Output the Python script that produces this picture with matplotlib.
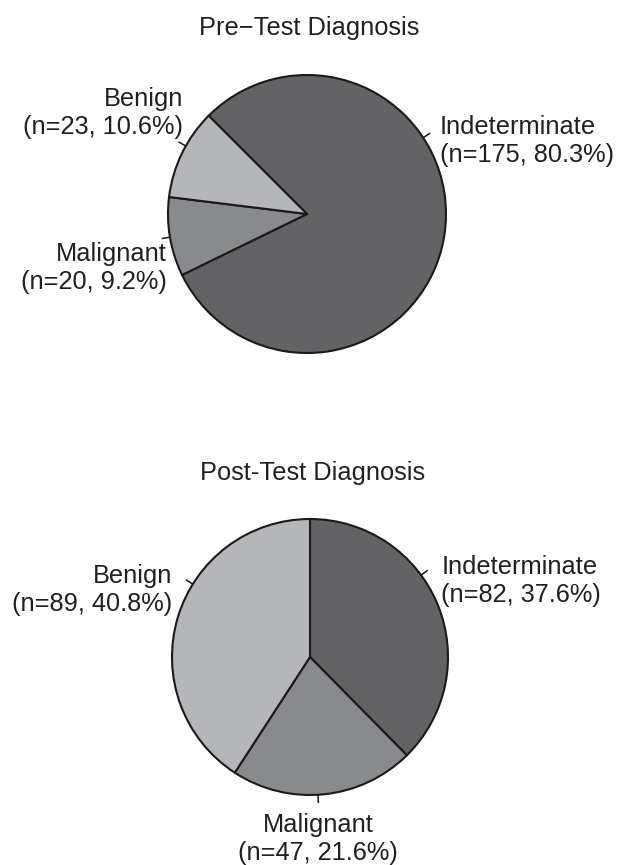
import numpy as np
import matplotlib
matplotlib.use('Agg')
import matplotlib.pyplot as plt

plt.rcParams['font.family'] = ['Liberation Sans', 'DejaVu Sans']

# diagnosis categories, in drawing order (clockwise)
categories = ['Indeterminate', 'Malignant', 'Benign']
pre_counts = [175, 20, 23]
post_counts = [82, 47, 89]

titles = ['Pre\u2212Test Diagnosis', 'Post-Test Diagnosis']

colors = ['#636365', '#898a8e', '#b5b6ba']

W, H = 618, 865
fig = plt.figure(figsize=(W / 100, H / 100), dpi=100)

# pie layout in pixels: centre x, centre y (from top), radius
pies = [
    dict(counts=pre_counts, cx=307, cy=214, r=139, start=135,
         ticks=[33.3, 189.6, 150.7],
         labels=[(28.8, 1.09, 'left'), (201.1, 1.08, 'right'), (140.7, 1.15, 'right')],
         title_y=35),
    dict(counts=post_counts, cx=310, cy=657, r=138, start=90,
         ticks=[36.4, -86.7, 148.1],
         labels=[(30.0, 1.10, 'left'), (-87.5, 1.32, 'center'), (154.1, 1.11, 'right')],
         title_y=480),
]

L = 1.6
for p, title in zip(pies, titles):
    side = 2 * L * p['r']
    ax = fig.add_axes([(p['cx'] - side / 2) / W, (H - p['cy'] - side / 2) / H,
                       side / W, side / H])

    counts = p['counts']
    total = sum(counts)
    ax.pie(counts, colors=colors, startangle=p['start'], counterclock=False,
           radius=1.0, wedgeprops=dict(edgecolor='#1a1a1a', linewidth=1.5))
    # pie() resets the limits, so set them afterwards
    ax.set_xlim(-L, L)
    ax.set_ylim(-L, L)
    ax.axis('off')

    for name, n, tick, (ang, dist, ha) in zip(categories, counts, p['ticks'], p['labels']):
        t = np.deg2rad(tick)
        ax.plot([np.cos(t), 1.06 * np.cos(t)], [np.sin(t), 1.06 * np.sin(t)],
                color='#1a1a1a', lw=1.1, solid_capstyle='butt')
        a = np.deg2rad(ang)
        label = f'{name}\n(n={n}, {100 * n / total:.1f}%)'
        ax.text(dist * np.cos(a), dist * np.sin(a), label, ha=ha, va='center',
                multialignment=ha, fontsize=18.3, color='#231f20')

    fig.text(p['cx'] / W + 0.004, 1 - p['title_y'] / H, title, ha='center',
             va='baseline', fontsize=18.3, color='#231f20')

fig.savefig('out.png', dpi=100, facecolor='white')
